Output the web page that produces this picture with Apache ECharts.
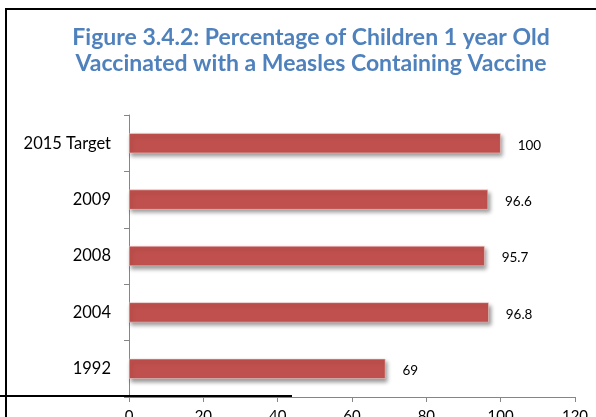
<!DOCTYPE html>
<html>
<head>
<meta charset="utf-8">
<script src="https://cdn.jsdelivr.net/npm/echarts@6/dist/echarts.min.js"></script>
<style>html,body{margin:0;padding:0;background:#fff;}#c{width:596px;height:417px;}</style>
</head>
<body>
<div id="c"></div>
<script>
const categories = ['1992', '2004', '2008', '2009', '2015 Target'];
const values = [69, 96.8, 95.7, 96.6, 100];
const xTicks = [0, 20, 40, 60, 80, 100, 120];

const chart = echarts.init(document.getElementById('c'), null, {renderer: 'canvas'});
chart.setOption({
  animation: false,
  backgroundColor: '#ffffff',
  title: {
    text: 'Figure 3.4.2: Percentage of Children 1 year Old\nVaccinated with a Measles Containing Vaccine',
    left: 306, top: 20, textAlign: 'center',
    textStyle: {fontFamily: 'Lato', fontWeight: 'bold', fontSize: 23, color: '#4F81BD', lineHeight: 26}
  },
  grid: {left: 129, right: 21, top: 115, bottom: 20, containLabel: false, outerBoundsMode: 'none'},
  xAxis: {
    type: 'value', min: xTicks[0], max: xTicks[xTicks.length - 1], interval: 20,
    axisLine: {show: true, lineStyle: {color: '#868686', width: 1}},
    axisTick: {show: true, length: 5, lineStyle: {color: '#868686'}},
    splitLine: {show: false},
    axisLabel: {margin: 12, fontFamily: 'Lato', fontSize: 15, color: '#000'}
  },
  yAxis: {
    type: 'category', data: categories,
    axisLine: {show: true, lineStyle: {color: '#868686', width: 1}},
    axisTick: {show: true, length: 5, alignWithLabel: false, lineStyle: {color: '#868686'}},
    axisLabel: {margin: 18, fontFamily: 'Lato', fontSize: 16.5, color: '#000'}
  },
  series: [{
    type: 'bar', data: values, barWidth: 20,
    itemStyle: {color: '#C0504D', borderColor: '#F2DCDB', borderWidth: 0.5,
      shadowColor: 'rgba(0,0,0,0.4)', shadowBlur: 4, shadowOffsetX: 2, shadowOffsetY: 3},
    label: {show: true, position: 'right', distance: 17, offset: [0, 2], fontFamily: 'Lato', fontSize: 13.5, color: '#000'}
  }],
  graphic: [
    {type: 'line', shape: {x1: 6, y1: 9, x2: 596, y2: 9}, style: {stroke: '#000', lineWidth: 2}},
    {type: 'line', shape: {x1: 6, y1: 8, x2: 6, y2: 417}, style: {stroke: '#000', lineWidth: 2}},
    {type: 'line', shape: {x1: 0, y1: 396, x2: 292, y2: 396}, style: {stroke: '#000', lineWidth: 2}, z: 100}
  ]
});
</script>
</body>
</html>
